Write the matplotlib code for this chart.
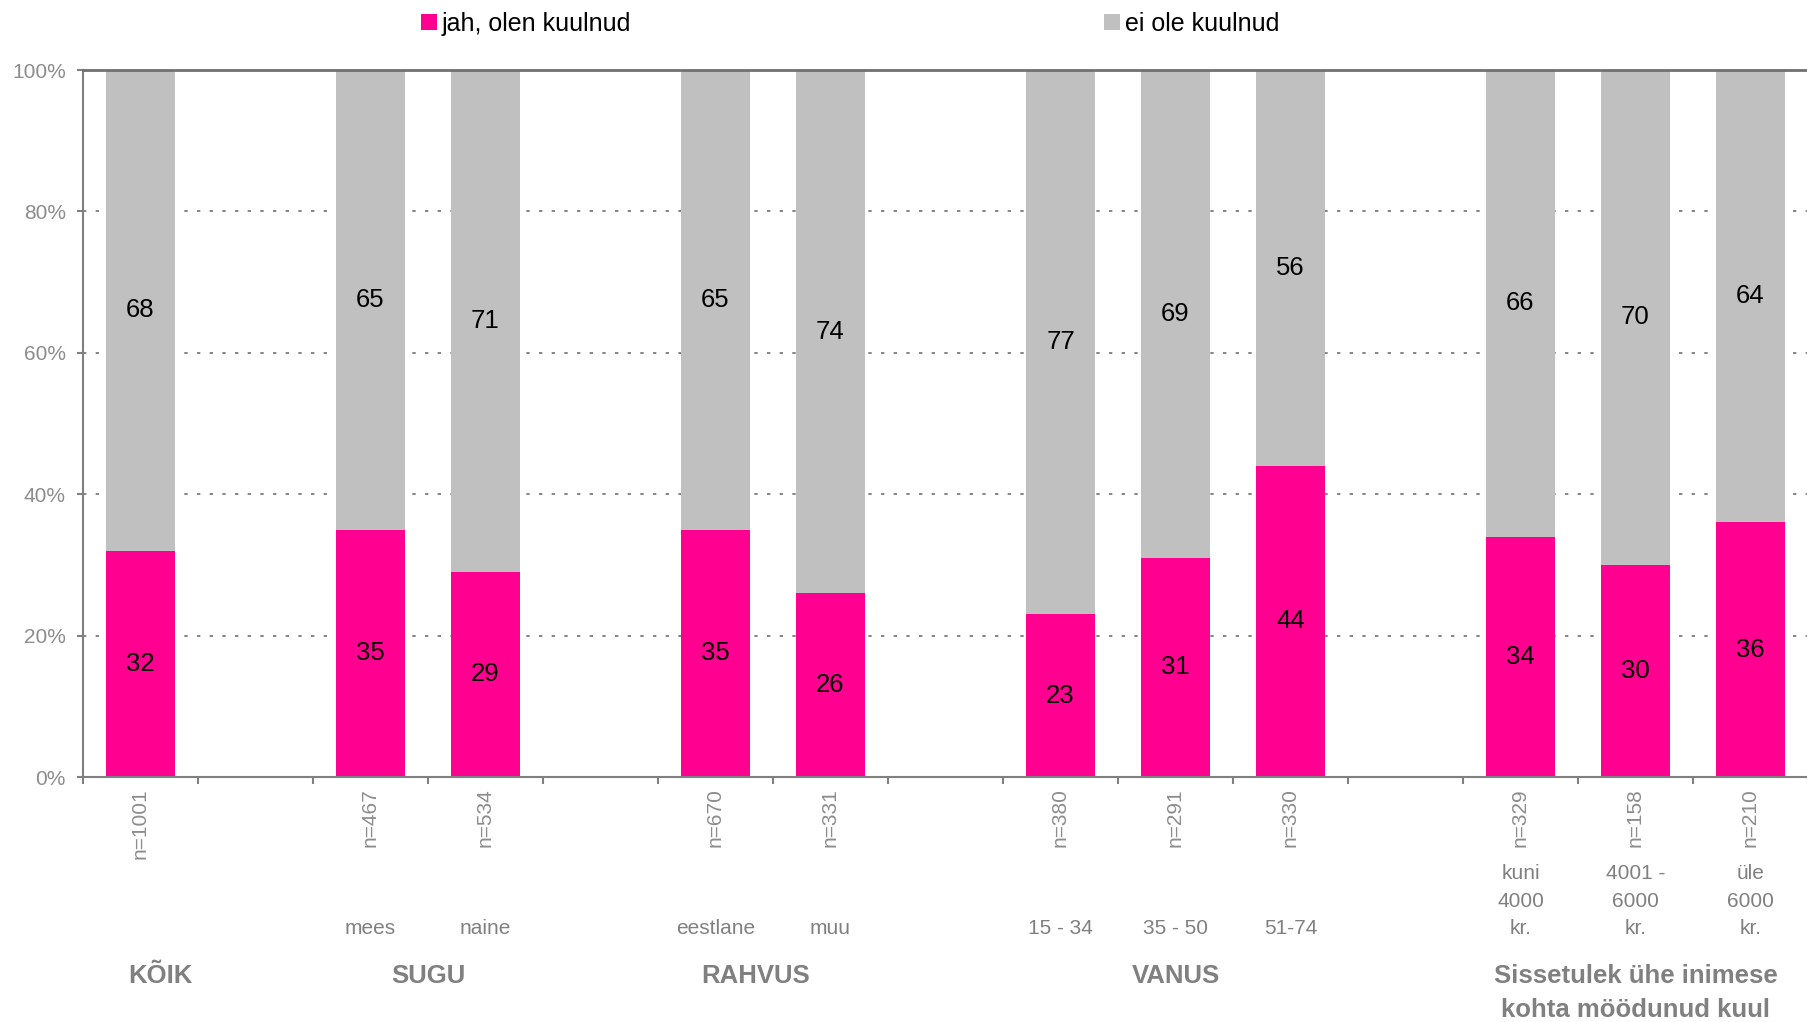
import matplotlib.pyplot as plt
from matplotlib.ticker import FixedLocator, PercentFormatter

plt.rcParams['font.family'] = ['Liberation Sans', 'DejaVu Sans']

# Andmed
groups = ["KÕIK", "SUGU", "RAHVUS", "VANUS", "Sissetulek ühe inimese\nkohta möödunud kuul"]
group_sizes = [1, 2, 2, 3, 3]
categories = ["", "mees", "naine", "eestlane", "muu", "15 - 34", "35 - 50", "51-74",
              "kuni\n4000\nkr.", "4001 -\n6000\nkr.", "üle\n6000\nkr."]
n_labels = ["n=1001", "n=467", "n=534", "n=670", "n=331", "n=380", "n=291", "n=330",
            "n=329", "n=158", "n=210"]
jah = [32, 35, 29, 35, 26, 23, 31, 44, 34, 30, 36]
ei = [68, 65, 71, 65, 74, 77, 69, 56, 66, 70, 64]

PINK = "#FF0090"
GREY = "#C0C0C0"
AXGREY = "#808080"
TXTGREY = "#8C8C8C"

# positsioonid: grupid, nende vahel üks tühi koht
x = []
group_centers = []
pos = 0
for size in group_sizes:
    members = list(range(pos, pos + size))
    x += members
    group_centers.append(sum(members) / size)
    pos += size + 1
group_shift = [0.17, 0, -0.15, 0, 0]

W, H = 1808, 1022
fig = plt.figure(figsize=(W / 100, H / 100), dpi=100)
ax = fig.add_axes([83 / W, 1 - 777 / H, 1 - 83 / W, 707 / H])

b1 = ax.bar(x, jah, width=0.6, color=PINK, label="jah, olen kuulnud", zorder=2)
b2 = ax.bar(x, ei, width=0.6, bottom=jah, color=GREY, label="ei ole kuulnud", zorder=2)
ax.bar_label(b1, label_type='center', fontsize=18.5, color='black')
ax.bar_label(b2, label_type='center', fontsize=18.5, color='black')

ax.set_xlim(-0.5, pos - 1.5)
ax.set_ylim(0, 100)

# y telg
ax.set_yticks([0, 20, 40, 60, 80, 100])
ax.yaxis.set_major_formatter(PercentFormatter(decimals=0))
ax.tick_params(axis='y', direction='out', length=4.5, width=1.5, color=AXGREY,
               labelsize=15, labelcolor=TXTGREY, pad=8)
ax.grid(axis='y', color='#707070', linestyle=(0, (2, 5.6)), linewidth=1.2)
ax.set_axisbelow(True)

# x telg: n tekstid ja vahejooned
ax.set_xticks(x)
ax.set_xticklabels(n_labels, rotation=90, fontsize=15, color=TXTGREY, va='top')
ax.tick_params(axis='x', which='major', length=0, pad=8)
ax.xaxis.set_minor_locator(FixedLocator([i - 0.5 for i in range(pos)]))
ax.tick_params(axis='x', which='minor', direction='out', length=5, width=1.5, color=AXGREY)

for side in ['left', 'bottom']:
    ax.spines[side].set_color(AXGREY)
    ax.spines[side].set_linewidth(1.5)
ax.spines['top'].set_color('#707070')
ax.spines['top'].set_linewidth(2)
ax.spines['right'].set_visible(False)

# kategooriad ja grupid
trans = ax.get_xaxis_transform()
for xi, cat in zip(x, categories):
    ax.text(xi, -0.2277, cat, transform=trans, ha='center', va='bottom',
            fontsize=15, color=AXGREY, linespacing=1.55)
for c, s, g in zip(group_centers, group_shift, groups):
    ax.text(c + s, -0.2645, g, transform=trans, ha='center', va='top',
            fontsize=18.5, fontweight='bold', color=AXGREY, linespacing=1.5)

# legend
ax.legend(handles=[b1, b2], ncol=2, frameon=False, fontsize=18,
          handlelength=0.64, handleheight=0.64, handletextpad=0.2,
          columnspacing=18.9, borderpad=0, borderaxespad=0,
          loc='center left', bbox_to_anchor=(421 / W, 1 - 24 / H),
          bbox_transform=fig.transFigure)

fig.savefig("out.png", dpi=100)
